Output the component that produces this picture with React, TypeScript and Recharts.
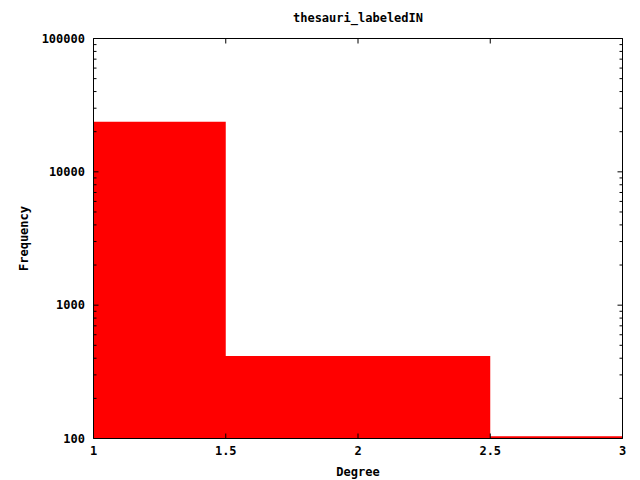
import React from 'react';
import { ComposedChart, Area, Line, XAxis, YAxis, Label } from 'recharts';

// Histogram bins: edges along Degree, frequency per bin
const binEdges = [1, 1.5, 2.5, 3];
const frequencies = [23770, 416, 104];
const xTicks = [1, 1.5, 2, 2.5, 3];
const yMajorTicks = [100, 1000, 10000, 100000];
const yMinorTicks = [
  200, 300, 400, 500, 600, 700, 800, 900,
  2000, 3000, 4000, 5000, 6000, 7000, 8000, 9000,
  20000, 30000, 40000, 50000, 60000, 70000, 80000, 90000,
];
const title = 'thesauri_labeledIN';
const xLabel = 'Degree';
const yLabel = 'Frequency';

const data = binEdges.map((edge, i) => ({
  x: edge,
  y: frequencies[Math.min(i, frequencies.length - 1)],
}));
const yAllTicks = [...yMajorTicks, ...yMinorTicks].sort((a, b) => a - b);

const FONT = '"DejaVu Sans Mono", "Liberation Mono", monospace';
const tickStyle = { fontFamily: FONT, fontSize: 12, fontWeight: 'bold', fill: '#000' } as const;
const axisLine = { stroke: '#000', strokeWidth: 1 };
const noLabel = () => <g />;

const LeftTick = (props: any) => {
  const { x, y, payload } = props;
  const major = yMajorTicks.includes(payload.value);
  const len = major ? 5 : 3;
  return (
    <g>
      <line x1={x} y1={y} x2={x + len} y2={y} stroke="#000" strokeWidth={1} />
      {major && (
        <text x={x - 8.5} y={y} dy="0.36em" textAnchor="end" {...tickStyle}>
          {payload.value}
        </text>
      )}
    </g>
  );
};

const RightTick = (props: any) => {
  const { x, y, payload } = props;
  const major = yMajorTicks.includes(payload.value);
  const len = major ? 5 : 3;
  return <line x1={x} y1={y} x2={x - len} y2={y} stroke="#000" strokeWidth={1} />;
};

export default function App() {
  return (
    <div style={{ position: 'absolute', left: 0, top: 0, width: 640, height: 480, background: '#fff' }}>
      <div
        style={{
          position: 'absolute',
          left: 93.5,
          width: 529,
          top: 11,
          textAlign: 'center',
          fontFamily: FONT,
          fontSize: 12,
          fontWeight: 'bold',
          lineHeight: '14px',
          color: '#000',
        }}
      >
        {title}
      </div>
      <ComposedChart
        width={640}
        height={480}
        data={data}
        margin={{ top: 37.5, right: 16.5, bottom: 11.5, left: 0 }}
      >
        <XAxis
          xAxisId="bottom"
          dataKey="x"
          type="number"
          domain={[1, 3]}
          ticks={xTicks}
          allowDataOverflow
          height={30}
          tickSize={-5}
          tickMargin={12.5}
          axisLine={axisLine}
          tickLine={{ stroke: '#000' }}
          tick={tickStyle}
          interval={0}
        >
          <Label
            value={xLabel}
            position="insideBottom"
            offset={-7}
            style={{ fontFamily: FONT, fontSize: 12, fontWeight: 'bold', fill: '#000' }}
          />
        </XAxis>
        <XAxis
          xAxisId="top"
          orientation="top"
          type="number"
          dataKey="x"
          domain={[1, 3]}
          ticks={xTicks}
          allowDataOverflow
          height={1}
          tickSize={-5}
          axisLine={axisLine}
          tickLine={{ stroke: '#000' }}
          tick={noLabel}
          interval={0}
        />
        <YAxis
          yAxisId="left"
          type="number"
          scale="log"
          domain={[100, 100000]}
          ticks={yAllTicks}
          allowDataOverflow
          width={93.5}
          tickSize={0}
          tickMargin={0}
          axisLine={axisLine}
          tickLine={false}
          tick={LeftTick}
          interval={0}
        >
          <Label
            value={yLabel}
            angle={-90}
            position="insideLeft"
            offset={24}
            style={{ fontFamily: FONT, fontSize: 12, fontWeight: 'bold', fill: '#000', textAnchor: 'middle' }}
          />
        </YAxis>
        <YAxis
          yAxisId="right"
          orientation="right"
          type="number"
          scale="log"
          domain={[100, 100000]}
          ticks={yAllTicks}
          allowDataOverflow
          width={1}
          tickSize={0}
          tickMargin={0}
          axisLine={axisLine}
          tickLine={false}
          tick={RightTick}
          interval={0}
        />
        <Area
          xAxisId="bottom"
          yAxisId="left"
          dataKey="y"
          type="stepAfter"
          baseValue={100}
          stroke="none"
          fill="#ff0000"
          fillOpacity={1}
          isAnimationActive={false}
          dot={false}
          activeDot={false}
        />
        <Line xAxisId="top" yAxisId="right" dataKey="y" stroke="none" dot={false} activeDot={false} isAnimationActive={false} />
      </ComposedChart>
    </div>
  );
}
